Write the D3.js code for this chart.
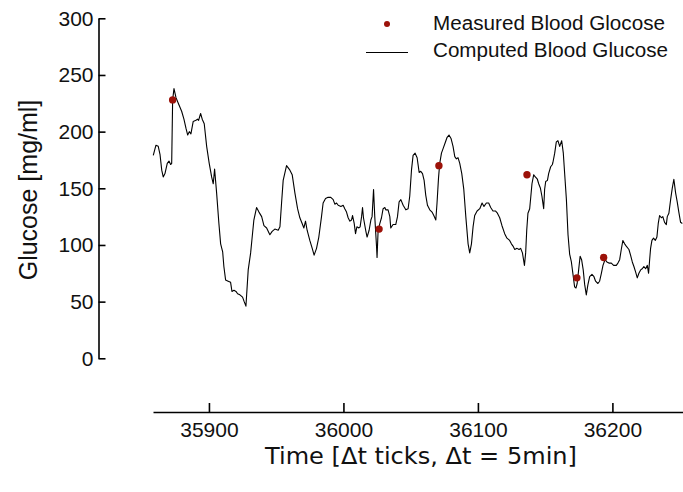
<!DOCTYPE html>
<html>
<head>
<meta charset="utf-8">
<script src="https://cdn.jsdelivr.net/npm/d3@7"></script>
<style>
  html, body { margin: 0; padding: 0; background: #fff; }
  svg { display: block; }
</style>
</head>
<body>
<svg id="chart" width="683" height="492"></svg>
<script>
// ---- data ----
const yTicks = [0, 50, 100, 150, 200, 250, 300];
const xTicks = [35900, 36000, 36100, 36200];

const measuredTicks = [35873, 36026.5, 36071, 36136.5, 36173.6, 36193.5];
const measuredGlucose = [228, 114, 170, 162, 71, 89];

const computedTicks = [
35858.6,35860.6,35862.3,35863.6,35864.9,35866.0,35867.3,35869.0,35870.3,35871.5,
35872.3,35873.0,35874.0,35875.5,35877.2,35879.7,35881.4,35882.9,35884.2,35885.4,
35886.6,35888.3,35890.3,35891.6,35892.3,35893.8,35895.0,35896.5,35898.3,35900.2,
35902.0,35903.2,35904.2,35905.7,35907.4,35908.7,35910.2,35911.1,35912.4,35914.3,
35916.1,35917.1,35918.6,35920.1,35921.3,35923.0,35925.0,35926.2,35927.5,35929.2,
35931.0,35931.9,35933.4,35935.4,35937.2,35939.2,35940.9,35942.9,35945.3,35947.0,
35949.0,35951.5,35952.8,35954.0,35955.2,35957.7,35960.2,35961.9,35963.9,35965.9,
35967.6,35969.3,35970.6,35971.8,35973.0,35975.0,35976.8,35978.2,35980.0,35981.7,
35983.7,35984.9,35986.7,35988.6,35990.6,35992.4,35993.6,35994.9,35996.1,35998.1,
35999.8,36001.0,36002.3,36003.5,36004.8,36006.0,36006.8,36008.0,36009.0,36010.0,
36011.5,36012.4,36013.5,36014.2,36014.9,36016.7,36017.6,36019.1,36020.4,36021.3,
36022.4,36023.3,36024.6,36025.0,36025.8,36027.1,36028.3,36029.5,36030.8,36031.5,
36033.2,36034.5,36035.2,36036.9,36038.9,36040.2,36041.4,36042.7,36044.4,36046.4,
36048.1,36049.3,36050.6,36051.8,36053.3,36054.8,36056.3,36057.5,36058.8,36060.0,
36061.2,36062.5,36064.2,36065.9,36067.2,36068.7,36069.6,36070.7,36071.6,36072.9,
36074.1,36075.6,36077.1,36078.5,36080.0,36081.5,36082.8,36084.0,36085.2,36086.5,
36088.0,36089.5,36091.0,36092.7,36093.9,36095.2,36096.4,36097.6,36099.4,36101.4,
36103.1,36104.5,36106.3,36108.0,36109.5,36111.2,36113.0,36114.5,36116.2,36117.9,
36119.9,36121.6,36123.6,36124.9,36126.1,36127.4,36129.1,36130.6,36131.8,36133.1,
36133.8,36134.6,36135.5,36136.3,36137.2,36138.5,36139.2,36140.2,36141.5,36142.7,
36144.2,36145.2,36146.5,36147.6,36148.9,36149.6,36150.4,36151.7,36152.6,36154.1,
36155.4,36155.8,36157.1,36158.3,36159.5,36160.8,36162.3,36163.5,36164.5,36165.8,
36167.0,36168.2,36169.5,36170.7,36171.9,36172.9,36173.8,36174.9,36176.0,36177.1,
36178.3,36179.4,36180.6,36181.8,36183.1,36184.8,36186.3,36187.5,36189.2,36190.5,
36191.8,36193.0,36194.5,36195.9,36197.4,36199.2,36200.9,36202.9,36204.1,36205.4,
36206.6,36207.8,36209.1,36210.3,36212.3,36213.5,36214.8,36216.0,36217.3,36218.5,
36219.7,36221.0,36222.2,36223.4,36224.7,36226.0,36226.9,36227.7,36228.4,36229.4,
36230.6,36231.9,36233.1,36234.1,36235.1,36236.4,36237.5,36238.8,36240.1,36240.8,
36242.0,36243.3,36244.5,36245.7,36247.0,36248.2,36249.4,36250.7,36252.0
];
const computedGlucose = [
179,188,187,180,166,160,163,172,174,171,
172,228,238,230,225,218,211,203,197,200,
198,209,210,211,210,216,211,207,187,172,
160,154,167,146,119,101,94,81,69,68,
67,59,60,59,57,56,54,50,46,78,
93,104,122,133,129,125,117,115,109,112,
114,113,116,137,157,170,166,162,146,132,
124,119,115,121,113,104,97,91,97,107,
125,137,141,142,142,140,136,137,135,134,
135,132,129,124,121,122,126,119,110,116,
115,116,125,133,124,112,107,113,122,125,
149,125,99,89,113,119,124,132,133,131,
131,125,115,118,118,125,138,140,135,131,
132,143,166,179,181,177,164,165,163,157,
144,135,131,129,126,122,137,159,172,181,
185,190,195,197,194,187,178,176,177,172,
163,149,125,101,93,101,116,126,130,132,
137,134,137,137,133,130,130,128,124,117,
110,106,104,101,99,96,97,96,97,93,
88,82,93,113,128,132,141,154,162,160,
158,154,150,143,132,149,156,157,163,169,
171,173,181,191,192,187,192,181,163,140,
109,92,85,74,63,62,66,78,90,87,
78,65,56,65,72,74,72,68,66,68,
75,82,87,85,84,84,82,82,84,87,
96,104,101,99,96,91,85,81,76,71,
75,78,79,81,79,82,75,87,97,104,
106,104,107,119,126,124,125,120,118,125,
128,140,150,158,146,138,129,120,119
];

const legendLabels = ["Measured Blood Glocose", "Computed Blood Glucose"];
const xTitle = "Time [\u0394t ticks, \u0394t = 5min]";
const yTitle = "Glucose [mg/ml]";

// ---- drawing ----
const svg = d3.select("#chart");
const tickFont = "'Liberation Sans', Arial, sans-serif";

const x = d3.scaleLinear().domain([35858.4, 36252.5]).range([153, 683]);
const y = d3.scaleLinear().domain([0, 300]).range([358.3, 18.3]);

// clip for the plot area
svg.append("defs").append("clipPath").attr("id", "plotclip")
  .append("rect").attr("x", 100).attr("y", 0).attr("width", 583).attr("height", 400);

// y axis
const yAxis = d3.axisLeft(y).tickValues(yTicks).tickSizeInner(-7).tickSizeOuter(0).tickPadding(5)
  .tickFormat(d3.format("d"));
const gy = svg.append("g").attr("transform", "translate(98.5,0)").call(yAxis);
gy.select(".domain").attr("stroke", "#000").attr("stroke-width", 1.6);
gy.selectAll(".tick line").attr("stroke", "#000").attr("stroke-width", 1.6);
gy.selectAll(".tick text").attr("font-family", tickFont).attr("font-size", 21)
  .attr("fill", "#111");

// x axis
const xAxis = d3.axisBottom(x).tickValues(xTicks).tickSizeInner(-9).tickSizeOuter(0).tickPadding(10)
  .tickFormat(d3.format("d"));
const gx = svg.append("g").attr("transform", "translate(0,412)").call(xAxis);
gx.select(".domain").attr("stroke", "#000").attr("stroke-width", 1.6);
gx.selectAll(".tick line").attr("stroke", "#000").attr("stroke-width", 1.6);
gx.selectAll(".tick text").attr("font-family", tickFont).attr("font-size", 21)
  .attr("fill", "#111");

// computed line
const lineData = computedTicks.map((t, i) => [t, computedGlucose[i]]);
svg.append("path")
  .datum(lineData)
  .attr("clip-path", "url(#plotclip)")
  .attr("fill", "none")
  .attr("stroke", "#000")
  .attr("stroke-width", 1.1)
  .attr("stroke-linejoin", "round")
  .attr("d", d3.line().x(d => x(d[0])).y(d => y(d[1])));

// measured points
const measData = measuredTicks.map((t, i) => [t, measuredGlucose[i]]);
svg.append("g").selectAll("circle").data(measData).join("circle")
  .attr("cx", d => x(d[0])).attr("cy", d => y(d[1])).attr("r", 3.7)
  .attr("fill", "#9c1209");

// legend
const lg = svg.append("g");
lg.append("circle").attr("cx", 387).attr("cy", 24).attr("r", 3).attr("fill", "#9c1209");
lg.append("line").attr("x1", 366).attr("x2", 408).attr("y1", 52.5).attr("y2", 52.5)
  .attr("stroke", "#000").attr("stroke-width", 1);
lg.append("text").attr("x", 433).attr("y", 29.5).text(legendLabels[0])
  .attr("font-family", tickFont).attr("font-size", 19.5).attr("fill", "#111")
  .attr("textLength", 232).attr("lengthAdjust", "spacingAndGlyphs");
lg.append("text").attr("x", 433).attr("y", 57).text(legendLabels[1])
  .attr("font-family", tickFont).attr("font-size", 19.5).attr("fill", "#111")
  .attr("textLength", 235).attr("lengthAdjust", "spacingAndGlyphs");

// axis titles
svg.append("text").attr("x", 265).attr("y", 463.5).text(xTitle)
  .attr("font-family", "'DejaVu Sans', sans-serif").attr("font-size", 23)
  .attr("fill", "#111").attr("textLength", 312).attr("lengthAdjust", "spacingAndGlyphs");

svg.append("text").attr("transform", "translate(37,190) rotate(-90)")
  .attr("text-anchor", "middle").text(yTitle)
  .attr("font-family", tickFont).attr("font-size", 25).attr("fill", "#111");
</script>
</body>
</html>
